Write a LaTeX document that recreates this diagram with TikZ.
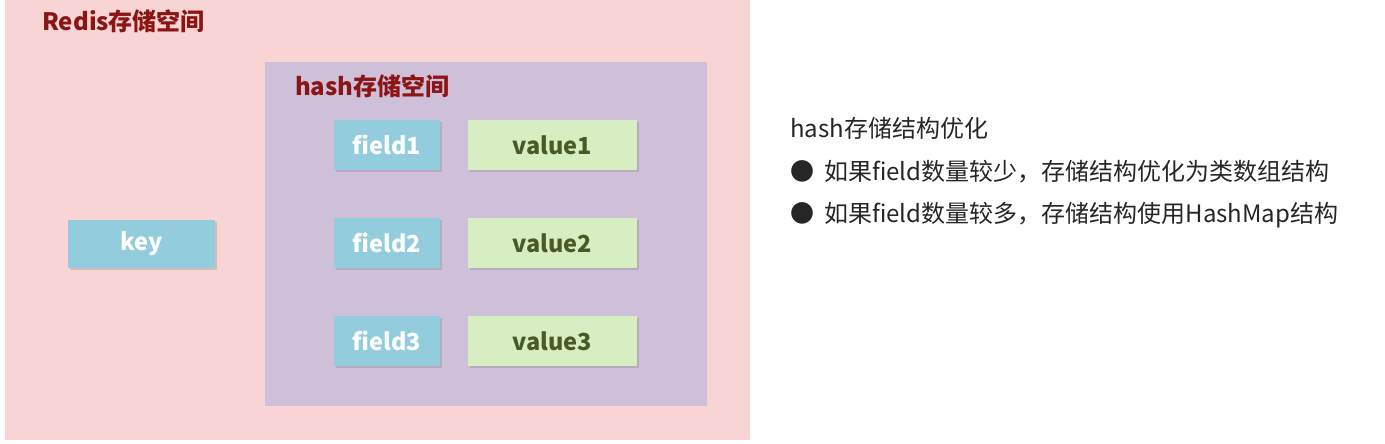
\documentclass[tikz,border=0pt]{standalone}
\usepackage{fontspec}
\setmainfont{Noto Sans CJK SC}
\usetikzlibrary{shadows}
\definecolor{pinkbg}{HTML}{F9D4D4}
\definecolor{purplebg}{HTML}{CFC0DA}
\definecolor{bluebox}{HTML}{93CDDD}
\definecolor{greenbox}{HTML}{D7EEC2}
\definecolor{darkred}{HTML}{8B1414}
\definecolor{valtext}{HTML}{4A5A26}
\tikzset{
  bbox/.style={fill=bluebox, text=white, font=\bfseries\fontsize{23.5}{24}\selectfont, inner sep=0pt, drop shadow={shadow xshift=2pt, shadow yshift=-2pt, opacity=0.3}},
  gbox/.style={fill=greenbox, text=valtext, font=\bfseries\fontsize{23.5}{24}\selectfont, inner sep=0pt, drop shadow={shadow xshift=2pt, shadow yshift=-2pt, opacity=0.3}},
  title/.style={text=darkred, font=\bfseries\fontsize{24}{24}\selectfont, anchor=west, inner sep=0pt},
  rtext/.style={font=\fontsize{24}{24}\selectfont, anchor=west, inner sep=0pt, text=black!85}
}
\begin{document}
\begin{tikzpicture}[x=1pt,y=-1pt]
\useasboundingbox (0,0) rectangle (1385,444);
\fill[white] (0,0) rectangle (1385,444);
\fill[pinkbg] (5,0) rectangle (750,440);
\fill[purplebg] (265,62) rectangle (707,406);
\node[title] (t1) at (42,21) {Redis存储空间};
\node[title] (t2) at (295,86) {hash存储空间};
\node[bbox, minimum width=147pt, minimum height=48pt] (key) at (141.5,244) {key};
\foreach \i/\y in {1/145,2/243,3/341}{
  \node[bbox, minimum width=106pt, minimum height=50pt] (f\i) at (387,\y) {field\i};
  \node[gbox, minimum width=169pt, minimum height=50pt] (v\i) at (552.5,\y) {value\i};
}
\node[rtext] (h) at (790,128) {hash存储结构优化};
\node[rtext] (b1) at (790,172) {●\hspace{10pt}如果field数量较少，存储结构优化为类数组结构};
\node[rtext] (b2) at (790,215) {●\hspace{10pt}如果field数量较多，存储结构使用HashMap结构};
\end{tikzpicture}
\end{document}
